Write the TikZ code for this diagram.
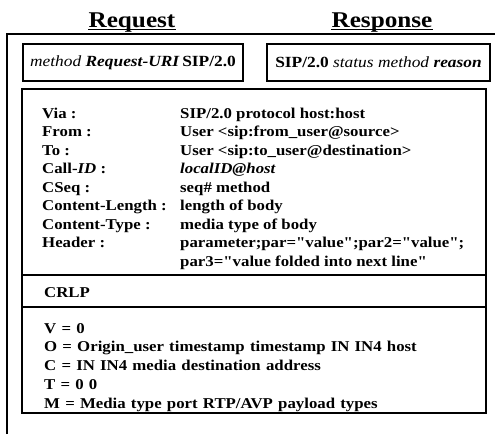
\documentclass[tikz,border=0pt]{standalone}
\usepackage{fontspec}
\setmainfont[FakeStretch=1.12, Ligatures=TeXOff]{Liberation Serif}
\begin{document}
\begin{tikzpicture}[x=1pt, y=-1pt,
    marco/.style={line width=1.8pt},
    caja/.style={draw, line width=1.7pt},
    linea/.style={draw, line width=1.5pt, minimum height=37pt,
      inner sep=0pt, font=\bfseries\fontsize{15.5}{17}\selectfont},
    titulo/.style={inner sep=0pt, anchor=base, font=\bfseries\fontsize{22.5}{26}\selectfont},
    texto/.style={inner sep=0pt, anchor=north west, font=\bfseries\fontsize{15}{18.5}\selectfont}]
  \useasboundingbox (0,0) rectangle (495,434);
  % Titulos
  \node[titulo] (req) at (132,27) {Request};
  \node[titulo] (resp) at (382,27) {Response};
  \draw[line width=1.2pt] ([yshift=-2.5pt]req.base west) -- ([yshift=-2.5pt]req.base east);
  \draw[line width=1.2pt] ([yshift=-2.5pt]resp.base west) -- ([yshift=-2.5pt]resp.base east);
  % Marco
  \draw[marco] (7,434) -- (7,34) -- (496,34);
  % Lineas de inicio
  \node[linea, minimum width=220pt] (inicioreq) at (133,62.5)
    {\textit{\mdseries method} \textit{Request-URI}\,SIP/2.0};
  \node[linea, minimum width=223pt] (iniciorsp) at (378.5,62.5)
    {SIP/2.0 \textit{\mdseries status method} \textit{reason}};
  % Cabeceras, CRLP y SDP
  \draw[caja] (22,89) rectangle (486,275);
  \draw[caja] (22,275) rectangle (486,307);
  \draw[caja] (22,307) rectangle (486,413);
  \node[texto] (campos) at (42,105.05) {%
    \begin{tabular}{@{}p{138pt}@{}l@{}}
      Via : & SIP/2.0 protocol host:host\\
      From : & User <sip:from\_user@source>\\
      To : & User <sip:to\_user@destination>\\
      Call-\textit{ID} : & \textit{localID@host}\\
      CSeq : & seq\# method\\
      Content-Length : & length of body\\
      Content-Type : & media type of body\\
      Header : & parameter;par="value";par2="value";\\
      & par3="value folded into next line"
    \end{tabular}};
  \node[texto, anchor=base west] (crlp) at (44,297) {CRLP};
  \node[texto, font=\bfseries\fontsize{15}{18.75}\selectfont] (sdp) at (44,319.9) {%
    \spaceskip=5.2pt\relax
    \begin{tabular}{@{}l@{}}
      V = 0\\
      O = Origin\_user timestamp timestamp IN IN4 host\\
      C = IN IN4 media destination address\\
      T = 0 0\\
      M = Media type port RTP/AVP payload types
    \end{tabular}};
\end{tikzpicture}
\end{document}
